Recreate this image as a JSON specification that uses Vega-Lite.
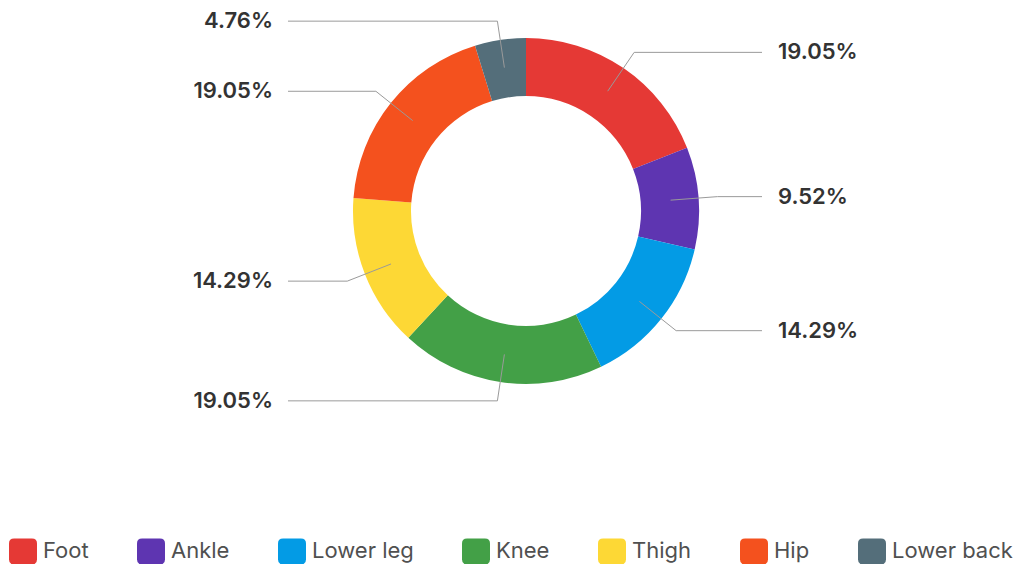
{
  "$schema": "https://vega.github.io/schema/vega-lite/v6.json",
  "width": 1019,
  "height": 564,
  "padding": 0,
  "autosize": {"type": "none"},
  "background": "white",
  "config": {"view": {"stroke": null}, "font": "Inter"},
  "data": {
    "values": [
      {"idx": 1, "part": "Foot", "pct": 19.05},
      {"idx": 2, "part": "Ankle", "pct": 9.52},
      {"idx": 3, "part": "Lower leg", "pct": 14.29},
      {"idx": 4, "part": "Knee", "pct": 19.05},
      {"idx": 5, "part": "Thigh", "pct": 14.29},
      {"idx": 6, "part": "Hip", "pct": 19.05},
      {"idx": 7, "part": "Lower back", "pct": 4.76}
    ]
  },
  "transform": [
    {"joinaggregate": [{"op": "sum", "field": "pct", "as": "total"}]},
    {"window": [{"op": "sum", "field": "pct", "as": "cum"}], "sort": [{"field": "idx"}], "frame": [null, 0]},
    {"calculate": "(datum.cum - datum.pct / 2) / datum.total * 2 * PI", "as": "a"},
    {"calculate": "145 * sin(datum.a)", "as": "x1"},
    {"calculate": "145 * cos(datum.a)", "as": "y1"},
    {"calculate": "192 * sin(datum.a)", "as": "x2"},
    {"calculate": "192 * cos(datum.a)", "as": "y2"},
    {"calculate": "datum.a < PI ? 'R' : 'L'", "as": "side"},
    {"calculate": "datum.a < PI ? 236 : -238", "as": "x3"},
    {"calculate": "datum.a < PI ? 252 : -253", "as": "xl"},
    {"calculate": "format(datum.pct, '.2f') + '%'", "as": "label"}
  ],
  "layer": [
    {
      "mark": {"type": "arc", "outerRadius": 173, "innerRadius": 115},
      "encoding": {
        "x": {"datum": 0, "type": "quantitative", "scale": {"domain": [-526, 493], "nice": false, "zero": false}, "axis": null},
        "y": {"datum": 0, "type": "quantitative", "scale": {"domain": [-353, 211], "nice": false, "zero": false}, "axis": null},
        "theta": {"field": "pct", "type": "quantitative", "stack": true},
        "order": {"field": "idx", "type": "quantitative"},
        "color": {
          "field": "part",
          "type": "nominal",
          "scale": {
            "domain": ["Foot", "Ankle", "Lower leg", "Knee", "Thigh", "Hip", "Lower back"],
            "range": ["#E53935", "#5E35B1", "#039BE5", "#43A047", "#FDD835", "#F4511E", "#546E7A"]
          },
          "legend": {
            "title": null,
            "orient": "none",
            "direction": "horizontal",
            "legendX": 9,
            "legendY": 537,
            "columns": 7,
            "columnPadding": 48,
            "symbolType": "M-0.64,-0.93 L0.64,-0.93 Q1,-0.93 1,-0.57 L1,0.57 Q1,0.93 0.64,0.93 L-0.64,0.93 Q-1,0.93 -1,0.57 L-1,-0.57 Q-1,-0.93 -0.64,-0.93 Z",
            "symbolSize": 784,
            "symbolStrokeWidth": 0,
            "symbolOpacity": 1,
            "labelFont": "Inter",
            "labelFontSize": 22,
            "labelColor": "#505050",
            "labelOffset": 6,
            "padding": 0
          }
        }
      }
    },
    {
      "mark": {"type": "rule", "color": "#9a9a9a", "strokeWidth": 1},
      "encoding": {
        "x": {"field": "x1", "type": "quantitative"},
        "y": {"field": "y1", "type": "quantitative"},
        "x2": {"field": "x2"},
        "y2": {"field": "y2"}
      }
    },
    {
      "mark": {"type": "rule", "color": "#9a9a9a", "strokeWidth": 1},
      "encoding": {
        "x": {"field": "x2", "type": "quantitative"},
        "y": {"field": "y2", "type": "quantitative"},
        "x2": {"field": "x3"},
        "y2": {"field": "y2"}
      }
    },
    {
      "transform": [{"filter": "datum.side == 'R'"}],
      "mark": {"type": "text", "align": "left", "baseline": "middle", "font": "Inter", "fontSize": 22, "fontWeight": 600, "color": "#333333"},
      "encoding": {
        "x": {"field": "xl", "type": "quantitative"},
        "y": {"field": "y2", "type": "quantitative"},
        "text": {"field": "label"}
      }
    },
    {
      "transform": [{"filter": "datum.side == 'L'"}],
      "mark": {"type": "text", "align": "right", "baseline": "middle", "font": "Inter", "fontSize": 22, "fontWeight": 600, "color": "#333333"},
      "encoding": {
        "x": {"field": "xl", "type": "quantitative"},
        "y": {"field": "y2", "type": "quantitative"},
        "text": {"field": "label"}
      }
    }
  ]
}
